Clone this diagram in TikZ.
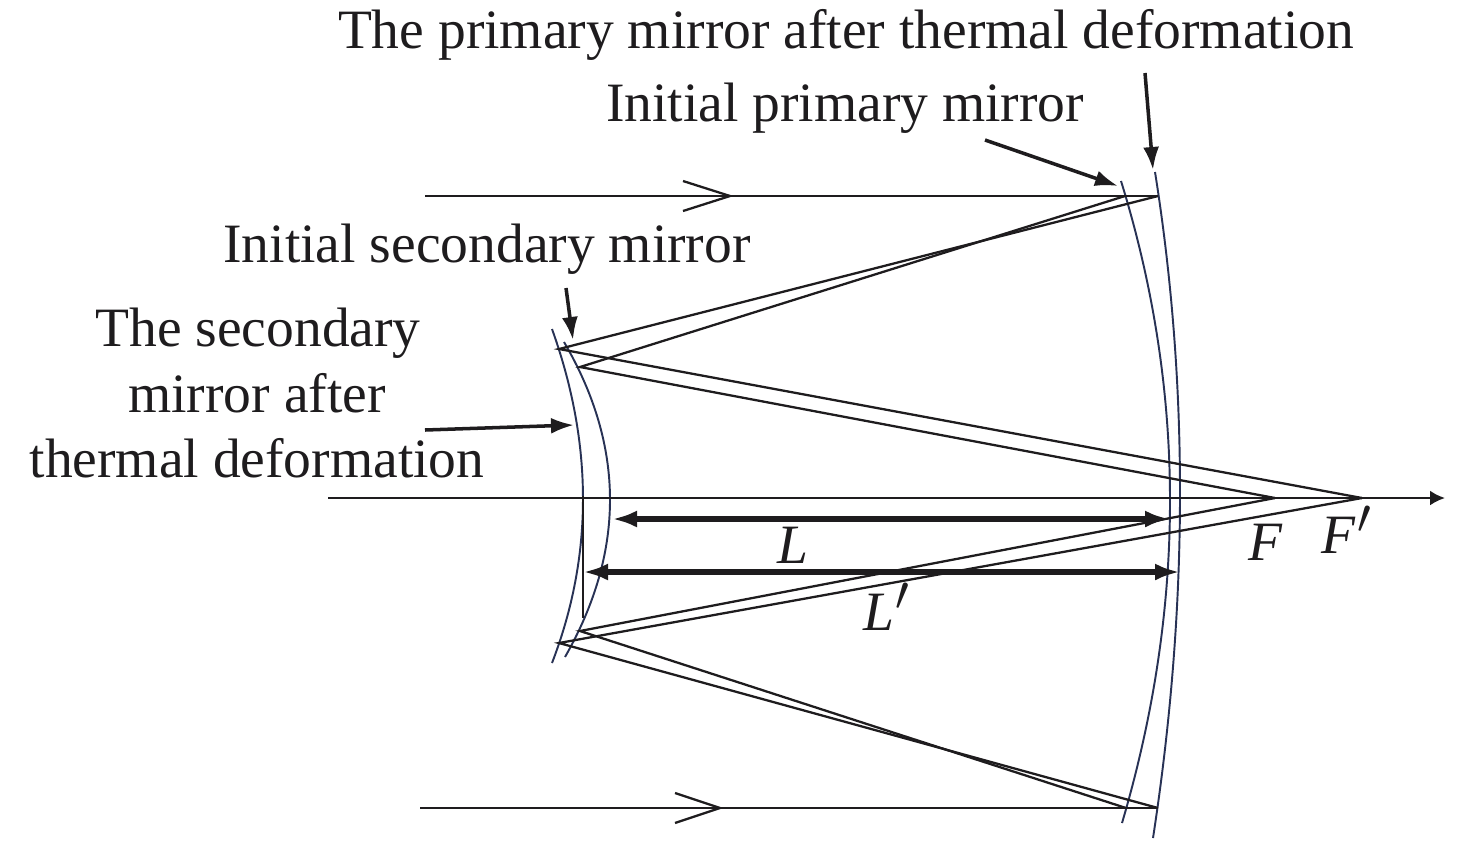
\documentclass[tikz,border=0pt]{standalone}
\usepackage{fontspec}
\setmainfont{Liberation Serif}
\usetikzlibrary{arrows.meta}
\definecolor{mirror}{RGB}{40,50,85}
\definecolor{ink}{RGB}{30,28,30}
\newcommand{\bigprime}{\kern0.02em\raisebox{0.36em}{\scalebox{1.35}{$\scriptstyle\prime$}}}
\begin{document}
\begin{tikzpicture}[x=0.02cm,y=-0.02cm,
  lbl/.style={font=\fontsize{31.6}{38}\selectfont, text=ink, inner sep=0pt, anchor=base},
  ray/.style={draw=ink, line width=1.3pt},
  mir/.style={draw=mirror, line width=1.1pt},
  pointer/.style={draw=ink, line width=2pt, -{Latex[length=0.46cm,width=0.32cm]}},
  dist/.style={draw=ink, line width=3.3pt, {Latex[length=0.5cm,width=0.34cm]}-{Latex[length=0.5cm,width=0.34cm]}},
  axisline/.style={draw=ink, line width=1.4pt, -{Latex[length=0.3cm,width=0.3cm]}},
]
\useasboundingbox (0,0) rectangle (1476,843);

% key points
\coordinate (ax0) at (328,498);
\coordinate (ax1) at (1445,498);
\coordinate (F) at (1275,498);
\coordinate (Fp) at (1362,498);
\coordinate (A1) at (1125,196);
\coordinate (A2) at (1158,196);
\coordinate (B1) at (1126,808);
\coordinate (B2) at (1158,808);
\coordinate (P1) at (559,349);
\coordinate (P2) at (580,367);
\coordinate (Q1) at (559,643);
\coordinate (Q2) at (580,631);
\coordinate (inT) at (425,196);
\coordinate (inB) at (420,808);

% mirrors
\draw[mir] (552,329) .. controls (593.3,444.3) and (593.3,555.7) .. (552,663);
\draw[mir] (564,342) .. controls (625,446.3) and (625.3,551.3) .. (565,657);
\draw[mir] (1121,181) .. controls (1186,391) and (1186.3,605) .. (1122,823);
\draw[mir] (1155,172) .. controls (1189,386) and (1188.3,608) .. (1153,838);

% axis
\draw[axisline] (ax0) -- (ax1);

% rays
\draw[ray] (inT) -- (A2);
\draw[ray] (inB) -- (B2);
\draw[ray] (A1) -- (P2) -- (F);
\draw[ray] (A2) -- (P1) -- (Fp);
\draw[ray] (B1) -- (Q2) -- (F);
\draw[ray] (B2) -- (Q1) -- (Fp);

% chevrons
\draw[ray, line join=miter] (683,181) -- (730,196) -- (683,211);
\draw[ray, line join=miter] (675,793) -- (720,808) -- (675,823);

% vertex marker
\coordinate (v0) at (583,496);
\coordinate (v1) at (583,618);
\draw[ray] (v0) -- (v1);

% distances
\coordinate (L0) at (612,519);
\coordinate (L1) at (1170,519);
\coordinate (Lp0) at (583,572);
\coordinate (Lp1) at (1180,572);
\draw[dist] (L0) -- (L1);
\draw[dist] (Lp0) -- (Lp1);

% labels
\node[lbl] (t1) at (846,48) {The primary mirror after thermal deformation};
\node[lbl] (t2) at (845,121) {Initial primary mirror};
\node[lbl] (t3) at (487,262) {Initial secondary mirror};
\node[lbl] (t4a) at (258,346) {The secondary};
\node[lbl] (t4b) at (257,412) {mirror after};
\node[lbl] (t4c) at (257,477) {thermal deformation};
\node[lbl] (lL) at (793,563) {\textit{L}};
\node[lbl] (lLp) at (886,630) {\textit{L}\bigprime};
\node[lbl] (lF) at (1266,560) {\textit{F}};
\node[lbl] (lFp) at (1346,553) {\textit{F}\bigprime};

% pointers
\coordinate (s1) at (1145,73);
\coordinate (e1) at (1153,170);
\coordinate (s2) at (985,140);
\coordinate (e2) at (1118,186);
\coordinate (s3) at (566,288);
\coordinate (e3) at (573,340);
\coordinate (s4) at (425,430);
\coordinate (e4) at (574,425);
\draw[pointer] (s1) -- (e1);
\draw[pointer] (s2) -- (e2);
\draw[pointer] (s3) -- (e3);
\draw[pointer] (s4) -- (e4);
\end{tikzpicture}
\end{document}
